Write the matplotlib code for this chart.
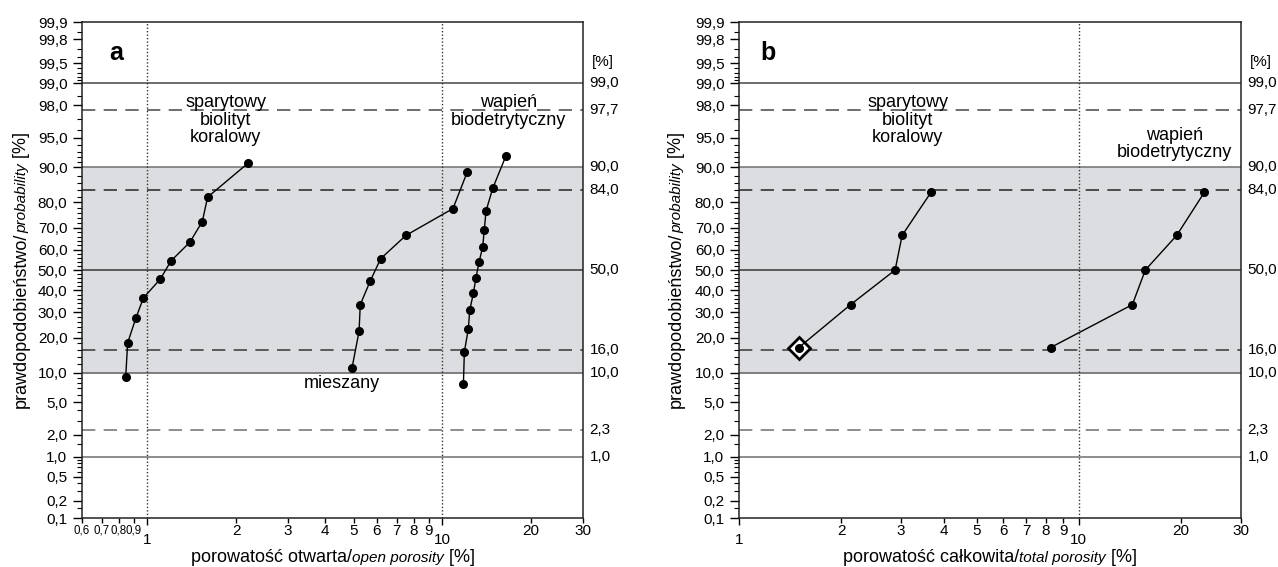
import numpy as np
import matplotlib
matplotlib.use("Agg")
import matplotlib.pyplot as plt
import matplotlib.transforms as mtransforms
from matplotlib.ticker import NullLocator, NullFormatter
from statistics import NormalDist

plt.rcParams["font.family"] = ["Liberation Sans", "DejaVu Sans"]

# --- dane: porowatość vs prawdopodobieństwo skumulowane [%] ---
# a) porowatość otwarta
a_spar_x = [0.844, 0.857, 0.913, 0.969, 1.106, 1.202, 1.394, 1.535, 1.60, 2.20]
a_spar_p = [9.1, 18.2, 27.3, 36.4, 45.5, 54.5, 63.6, 72.7, 81.8, 90.9]
a_mies_x = [4.94, 5.22, 5.27, 5.69, 6.18, 7.53, 10.87, 12.15]
a_mies_p = [11.1, 22.2, 33.3, 44.4, 55.6, 66.7, 77.8, 88.9]
a_wap_x = [11.79, 11.88, 12.25, 12.39, 12.74, 13.01, 13.32, 13.71, 13.88, 14.07, 14.83, 16.45]
a_wap_p = [7.7, 15.4, 23.1, 30.8, 38.5, 46.2, 53.8, 61.5, 69.2, 76.9, 84.6, 92.3]

# b) porowatość całkowita
b_spar_x = [1.50, 2.13, 2.88, 3.02, 3.67]
b_spar_p = [16.7, 33.3, 50.0, 66.7, 83.3]
b_wap_x = [8.26, 14.37, 15.69, 19.41, 23.39]
b_wap_p = [16.7, 33.3, 50.0, 66.7, 83.3]

# skala prawdopodobieństwa
y_major = [0.1, 0.2, 0.5, 1, 2, 5, 10, 20, 30, 40, 50, 60, 70, 80, 90, 95, 98, 99, 99.5, 99.8, 99.9]
y_major_lbl = ["0,1", "0,2", "0,5", "1,0", "2,0", "5,0", "10,0", "20,0", "30,0", "40,0", "50,0",
               "60,0", "70,0", "80,0", "90,0", "95,0", "98,0", "99,0", "99,5", "99,8", "99,9"]
y_minor = ([0.15, 0.3, 0.4, 0.6, 0.7, 0.8, 0.9, 1.5, 3, 4, 6, 7, 8, 9]
           + [v for v in range(12, 89, 2) if v % 10 != 0]
           + [91, 92, 93, 94, 96, 97, 98.5, 99.1, 99.2, 99.3, 99.4, 99.6, 99.7, 99.85])
right_vals = [99.0, 97.7, 90.0, 84.0, 50.0, 16.0, 10.0, 2.3, 1.0]
right_lbls = ["99,0", "97,7", "90,0", "84,0", "50,0", "16,0", "10,0", "2,3", "1,0"]

a_xticks = [0.6, 0.7, 0.8, 0.9, 1, 2, 3, 4, 5, 6, 7, 8, 9, 10, 20, 30]
a_xlbls = ["0,6", "0,7", "0,8", "0,9", "1", "2", "3", "4", "5", "6", "7", "8", "9", "10", "20", "30"]
b_xticks = [1, 2, 3, 4, 5, 6, 7, 8, 9, 10, 20, 30]
b_xlbls = ["1", "2", "3", "4", "5", "6", "7", "8", "9", "10", "20", "30"]

_nd = NormalDist()


def prob_to_z(p):
    p = np.clip(np.asarray(p, dtype=float) / 100.0, 1e-9, 1 - 1e-9)
    return np.vectorize(_nd.inv_cdf, otypes=[float])(p)


def z_to_prob(z):
    return 100.0 * np.vectorize(_nd.cdf, otypes=[float])(np.asarray(z, dtype=float))


W, H = 1278, 567
fig = plt.figure(figsize=(W / 100, H / 100), dpi=100)
ax_a = fig.add_axes([82 / W, 1 - 518 / H, 501 / W, 496 / H])
ax_b = fig.add_axes([739 / W, 1 - 518 / H, 502 / W, 496 / H])


def setup_axis(ax, xmin, xticks, xlbls, vlines):
    ax.set_xscale("log")
    ax.set_yscale("function", functions=(prob_to_z, z_to_prob))
    ax.set_xlim(xmin, 30)
    ax.set_ylim(0.1, 99.9)

    ax.axhspan(10, 90, color="#dcdde0", zorder=0, lw=0)
    for v, c in [(99, "#555555"), (90, "#7a7a7a"), (50, "#444444"), (10, "#6a6a6a"), (1, "#7a7a7a")]:
        ax.axhline(v, color=c, lw=1.2, zorder=1)
    for v, c in [(97.7, "#555555"), (84, "#333333"), (16, "#444444"), (2.3, "#7a7a7a")]:
        ax.axhline(v, color=c, lw=1.2, ls=(0, (8, 5)), zorder=1)
    for v in vlines:
        ax.axvline(v, color="#333333", lw=1.0, ls=(0, (1, 1.5)), zorder=1)

    ax.set_yticks(y_major, y_major_lbl)
    ax.set_yticks(y_minor, minor=True)
    ax.tick_params(axis="y", which="major", length=6.5, width=1, pad=4, labelsize=11)
    ax.tick_params(axis="y", which="minor", length=3.6, width=0.8)

    ax.set_xticks(xticks, xlbls)
    ax.xaxis.set_minor_locator(NullLocator())
    ax.xaxis.set_minor_formatter(NullFormatter())
    ax.tick_params(axis="x", which="major", length=3.6, width=1, pad=1, labelsize=11)
    for t in ax.xaxis.get_major_ticks():
        val = t.get_loc()
        if val < 1:
            t.label1.set_fontsize(8.3)
        if np.isclose(val, 1) or np.isclose(val, 10):
            t.set_pad(7)
            t.tick1line.set_markersize(5)

    for s in ax.spines.values():
        s.set_linewidth(1.1)
        s.set_color("#222222")

    # opis prawej osi
    trans = mtransforms.blended_transform_factory(ax.transAxes, ax.transData)
    for v, lbl in zip(right_vals, right_lbls):
        ax.text(1.013, v, lbl, transform=trans, va="center", ha="left", fontsize=11)
    ax.text(1.04, 0.92, "[%]", transform=ax.transAxes, ha="center", va="center", fontsize=11)


setup_axis(ax_a, 0.6, a_xticks, a_xlbls, [1, 10])
setup_axis(ax_b, 1, b_xticks, b_xlbls, [10])

line_kw = dict(color="black", lw=1.0, marker="o", markersize=5.5, zorder=4)
ax_a.plot(a_spar_x, a_spar_p, **line_kw)
ax_a.plot(a_mies_x, a_mies_p, **line_kw)
ax_a.plot(a_wap_x, a_wap_p, **line_kw)
ax_b.plot(b_spar_x, b_spar_p, **line_kw)
ax_b.plot(b_wap_x, b_wap_p, **line_kw)
# wyróżniona próbka
ax_b.plot(b_spar_x[0], b_spar_p[0], marker="D", markersize=11, mfc="white",
          mec="black", mew=2, zorder=3)

# opisy serii
txt = dict(fontsize=13, ha="center", va="center", linespacing=1.05)
ax_a.text(0.287, 0.802, "sparytowy\nbiolityt\nkoralowy", transform=ax_a.transAxes, **txt)
ax_a.text(0.852, 0.819, "wapień\nbiodetrytyczny", transform=ax_a.transAxes, **txt)
ax_a.text(0.519, 0.272, "mieszany", transform=ax_a.transAxes, **txt)
ax_b.text(0.336, 0.802, "sparytowy\nbiolityt\nkoralowy", transform=ax_b.transAxes, **txt)
ax_b.text(0.867, 0.754, "wapień\nbiodetrytyczny", transform=ax_b.transAxes, **txt)

ax_a.text(0.069, 0.938, "a", transform=ax_a.transAxes, fontsize=18, fontweight="bold",
          ha="center", va="center")
ax_b.text(0.058, 0.938, "b", transform=ax_b.transAxes, fontsize=18, fontweight="bold",
          ha="center", va="center")


def mixed_label(cx, cy, parts, rotation=0):
    """Etykieta złożona z kawałków o różnym kroju, wyśrodkowana w (cx, cy) [px]."""
    r = fig.canvas.get_renderer()
    texts = [fig.text(0, 0, s, rotation=rotation, rotation_mode="anchor",
                      ha="left", va="baseline", **kw) for s, kw in parts]
    sizes = []
    for t in texts:
        bb = t.get_window_extent(r)
        sizes.append(bb.width if rotation == 0 else bb.height)
    pos = -sum(sizes) / 2
    for t, sz in zip(texts, sizes):
        if rotation == 0:
            t.set_position(((cx + pos) / W, 1 - cy / H))
        else:
            t.set_position((cx / W, 1 - (cy - pos) / H))
        pos += sz


ylab = [("prawdopodobieństwo/", dict(fontsize=13)),
        ("probability", dict(fontsize=11, style="italic")),
        (" [%]", dict(fontsize=13))]
mixed_label(26, 270, ylab, rotation=90)
mixed_label(681, 270, ylab, rotation=90)
mixed_label(333, 562, [("porowatość otwarta/", dict(fontsize=13)),
                       ("open porosity", dict(fontsize=11, style="italic")),
                       (" [%]", dict(fontsize=13))])
mixed_label(990, 562, [("porowatość całkowita/", dict(fontsize=13)),
                       ("total porosity", dict(fontsize=11, style="italic")),
                       (" [%]", dict(fontsize=13))])

fig.savefig("out.png", dpi=100)
